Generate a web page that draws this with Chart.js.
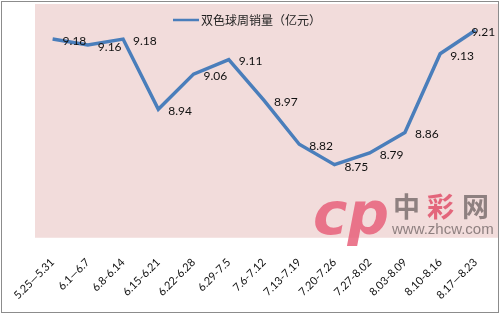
<!DOCTYPE html>
<html>
<head>
<meta charset="utf-8">
<script src="https://cdn.jsdelivr.net/npm/chart.js@4/dist/chart.umd.min.js"></script>
<style>
  html, body { margin: 0; padding: 0; background: #fff; }
  #wrap { width: 500px; height: 315px; position: relative; }
</style>
</head>
<body>
<div id="wrap"><canvas id="line-chart"></canvas></div>
<script>
// week labels along the x-axis
var weeks = ["5.25—5.31", "6.1—6.7", "6.8-6.14", "6.15-6.21", "6.22-6.28", "6.29-7.5", "7.6-7.12",
             "7.13-7.19", "7.20-7.26", "7.27-8.02", "8.03-8.09", "8.10-8.16", "8.17—8.23"];
// weekly sales, 100 million yuan
var sales = [9.18, 9.16, 9.18, 8.94, 9.06, 9.11, 8.97, 8.82, 8.75, 8.79, 8.86, 9.13, 9.21];
var seriesName = "双色球周销量（亿元）";
var yMin = 8.5;
var yMax = 9.3;

var lineColor = "#4a7ebb";
var numFont = "Lato, 'Open Sans', sans-serif";
var cjkFont = "'Noto Sans CJK SC', sans-serif";

// white page, pink plot area, grey frame
var backdrop = {
  id: "backdrop",
  beforeDraw: function (chart) {
    var c = chart.ctx, a = chart.chartArea;
    c.save();
    c.fillStyle = "#fff";
    c.fillRect(0, 0, chart.width, chart.height);
    c.fillStyle = "#f2dcdb";
    c.fillRect(a.left, a.top, a.right - a.left + 5, a.bottom - a.top);
    c.strokeStyle = "#8c8c8c";
    c.lineWidth = 1;
    c.strokeRect(1.5, 1.5, chart.width - 3, chart.height - 4);
    c.restore();
  }
};

// site watermark in the lower right corner
var watermark = {
  id: "watermark",
  beforeDatasetsDraw: function (chart) {
    var c = chart.ctx, a = chart.chartArea;
    c.save();
    c.globalAlpha = 0.85;
    c.font = "bold italic 58px 'DejaVu Sans', sans-serif";
    c.fillStyle = "#e8607a";
    c.textBaseline = "alphabetic";
    c.textAlign = "left";
    c.fillText("cp", a.right - 180, a.bottom - 4);
    c.font = "bold 27px " + cjkFont;
    c.textBaseline = "middle";
    c.fillStyle = "#7d7070";
    c.fillText("中", a.right - 100, a.bottom - 31);
    c.fillStyle = "#e0506a";
    c.fillText("彩", a.right - 66, a.bottom - 31);
    c.fillStyle = "#7d7070";
    c.fillText("网", a.right - 31, a.bottom - 31);
    c.font = "15px 'Liberation Sans', sans-serif";
    c.fillText("www.zhcw.com", a.right - 101, a.bottom - 8);
    c.restore();
  }
};

// value labels to the right of each point
var valueLabels = {
  id: "valueLabels",
  afterDatasetsDraw: function (chart) {
    var c = chart.ctx, a = chart.chartArea;
    var meta = chart.getDatasetMeta(0);
    c.save();
    c.font = "12px " + numFont;
    c.fillStyle = "#111";
    c.textBaseline = "middle";
    c.textAlign = "left";
    meta.data.forEach(function (pt, i) {
      var txt = sales[i].toFixed(2);
      var w = c.measureText(txt).width;
      var x = pt.x + 10;
      if (x + w > a.right + 2) x = pt.x - 4;
      c.fillText(txt, x, pt.y + 2);
    });
    c.restore();
  }
};

// legend drawn inside the plot area
var innerLegend = {
  id: "innerLegend",
  afterDraw: function (chart) {
    var c = chart.ctx, a = chart.chartArea;
    var x = a.left + 138, y = a.top + 16;
    c.save();
    c.strokeStyle = lineColor;
    c.lineWidth = 2.5;
    c.beginPath();
    c.moveTo(x, y);
    c.lineTo(x + 26, y);
    c.stroke();
    c.font = "12px " + cjkFont;
    c.fillStyle = "#222";
    c.textBaseline = "middle";
    c.fillText(seriesName, x + 28, y);
    c.restore();
  }
};

var ctx = document.getElementById("line-chart");
var myChart = new Chart(ctx, {
  type: "line",
  data: {
    labels: weeks,
    datasets: [{
      label: seriesName,
      data: sales,
      borderColor: lineColor,
      borderWidth: 3.5,
      pointRadius: 0,
      tension: 0,
      fill: false
    }]
  },
  options: {
    responsive: true,
    maintainAspectRatio: false,
    animation: false,
    layout: { padding: { left: 35, right: 7, top: 4, bottom: 3 } },
    plugins: {
      legend: { display: false },
      tooltip: { enabled: false }
    },
    scales: {
      x: {
        offset: true,
        grid: { display: false },
        border: { display: false },
        ticks: {
          color: "#111",
          font: { family: numFont, size: 11 },
          minRotation: 45,
          maxRotation: 45,
          autoSkip: false,
          padding: 10
        }
      },
      y: {
        display: false,
        min: yMin,
        max: yMax
      }
    }
  },
  plugins: [backdrop, watermark, valueLabels, innerLegend]
});
</script>
</body>
</html>
